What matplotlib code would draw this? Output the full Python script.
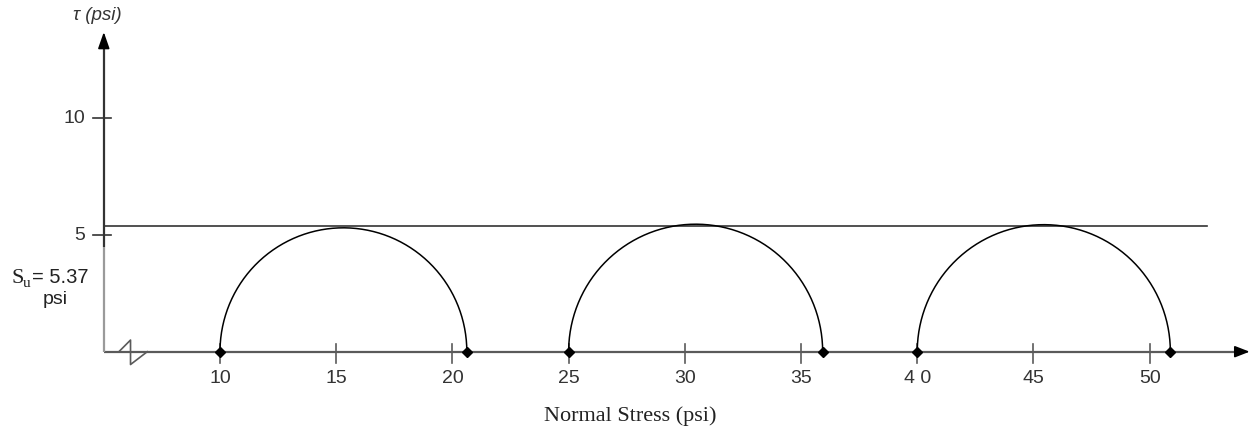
import numpy as np
import matplotlib
matplotlib.use("Agg")
import matplotlib.pyplot as plt

# ---- data ----
circle_left = [10.0, 25.0, 40.0]        # sigma_min of each Mohr circle (psi)
circle_right = [20.62, 35.93, 50.89]    # sigma_max of each Mohr circle (psi)
su_value = 5.37                          # undrained shear strength (psi)
x_ticks = [10, 15, 20, 25, 30, 35, 40, 45, 50]
x_tick_labels = ["10", "15", "20", "25", "30", "35", "4 0", "45", "50"]
y_ticks = [5, 10]
y_tick_labels = ["5", "10"]
x_origin = 5.0      # broken axis origin
x_end = 54.3        # arrow tip of sigma axis
y_end = 13.7        # arrow tip of tau axis
su_line_end = 52.48

W, H = 1251, 433
fig = plt.figure(figsize=(W / 100, H / 100), dpi=100)
ax = fig.add_axes([0, 0, 1, 1])
ax.set_xlim(0.534, 54.36)
ax.set_ylim(-3.485, 15.075)
ax.axis("off")

SANS = "Liberation Sans"
SERIF = "Liberation Serif"
axis_col = "#5a5a5a"

# x axis with arrow
ax.plot([x_origin, x_end - 0.55], [0, 0], color=axis_col, lw=1.6, solid_capstyle="butt")
ax.annotate("", xy=(x_end, 0), xytext=(x_end - 0.6, 0),
            arrowprops=dict(arrowstyle="-|>,head_length=0.9,head_width=0.35",
                            color="black", lw=1.2, shrinkA=0, shrinkB=0))

# y axis (lower part lighter) with arrow
ax.plot([x_origin, x_origin], [0, 4.5], color="#9a9a9a", lw=1.6, solid_capstyle="butt")
ax.plot([x_origin, x_origin], [4.5, y_end - 0.5], color="#333333", lw=1.6, solid_capstyle="butt")
ax.annotate("", xy=(x_origin, y_end), xytext=(x_origin, y_end - 0.6),
            arrowprops=dict(arrowstyle="-|>,head_length=1.0,head_width=0.35",
                            color="black", lw=1.2, shrinkA=0, shrinkB=0))

# axis break symbol
bx = [x_origin + 0.65, x_origin + 1.15, x_origin + 1.15, x_origin + 1.87]
by = [0, 0.5, -0.55, 0]
ax.plot(bx, by, color=axis_col, lw=1.2)

# x ticks
for xt, lab in zip(x_ticks, x_tick_labels):
    ax.plot([xt, xt], [-0.47, 0.33], color=axis_col, lw=1.2)
    ax.text(xt, -1.17, lab, ha="center", va="center", family=SANS, fontsize=14, color="#333333")

# y ticks
for yt, lab in zip(y_ticks, y_tick_labels):
    ax.plot([x_origin - 0.48, x_origin + 0.33], [yt, yt], color="#333333", lw=1.2)
    ax.text(x_origin - 0.8, yt, lab, ha="right", va="center", family=SANS, fontsize=14, color="#333333")

# Su line
ax.plot([x_origin, su_line_end], [su_value, su_value], color="#333333", lw=1.2)

# Mohr circles (upper halves)
theta = np.linspace(0, np.pi, 200)
for a, b in zip(circle_left, circle_right):
    c = (a + b) / 2
    r = (b - a) / 2
    ax.plot(c + r * np.cos(theta), r * np.sin(theta), color="black", lw=1.1)
    ax.plot([a, b], [0, 0], linestyle="none", marker="D", ms=5.5, color="black")

# axis titles
ax.text(27.63, -2.77, "Normal Stress (psi)",
        ha="center", va="center", family=SERIF, fontsize=16, color="#222222")
ax.text(4.71, 14.43, "τ (psi)", ha="center", va="center", family=SANS,
        style="italic", fontsize=13.5, color="#333333")

# Su annotation
ax.text(1.02, 2.94, "S", ha="left", va="baseline", family=SERIF, fontsize=16, color="#222222")
ax.text(1.51, 2.76, "u", ha="left", va="baseline", family=SERIF, fontsize=11, color="#222222")
ax.text(1.90, 2.94, "= 5.37", ha="left", va="baseline", family=SANS, fontsize=14.5, color="#222222")
ax.text(2.93, 2.04, "psi", ha="center", va="baseline", family=SANS, fontsize=14, color="#222222")

fig.savefig("out.png", dpi=100)
